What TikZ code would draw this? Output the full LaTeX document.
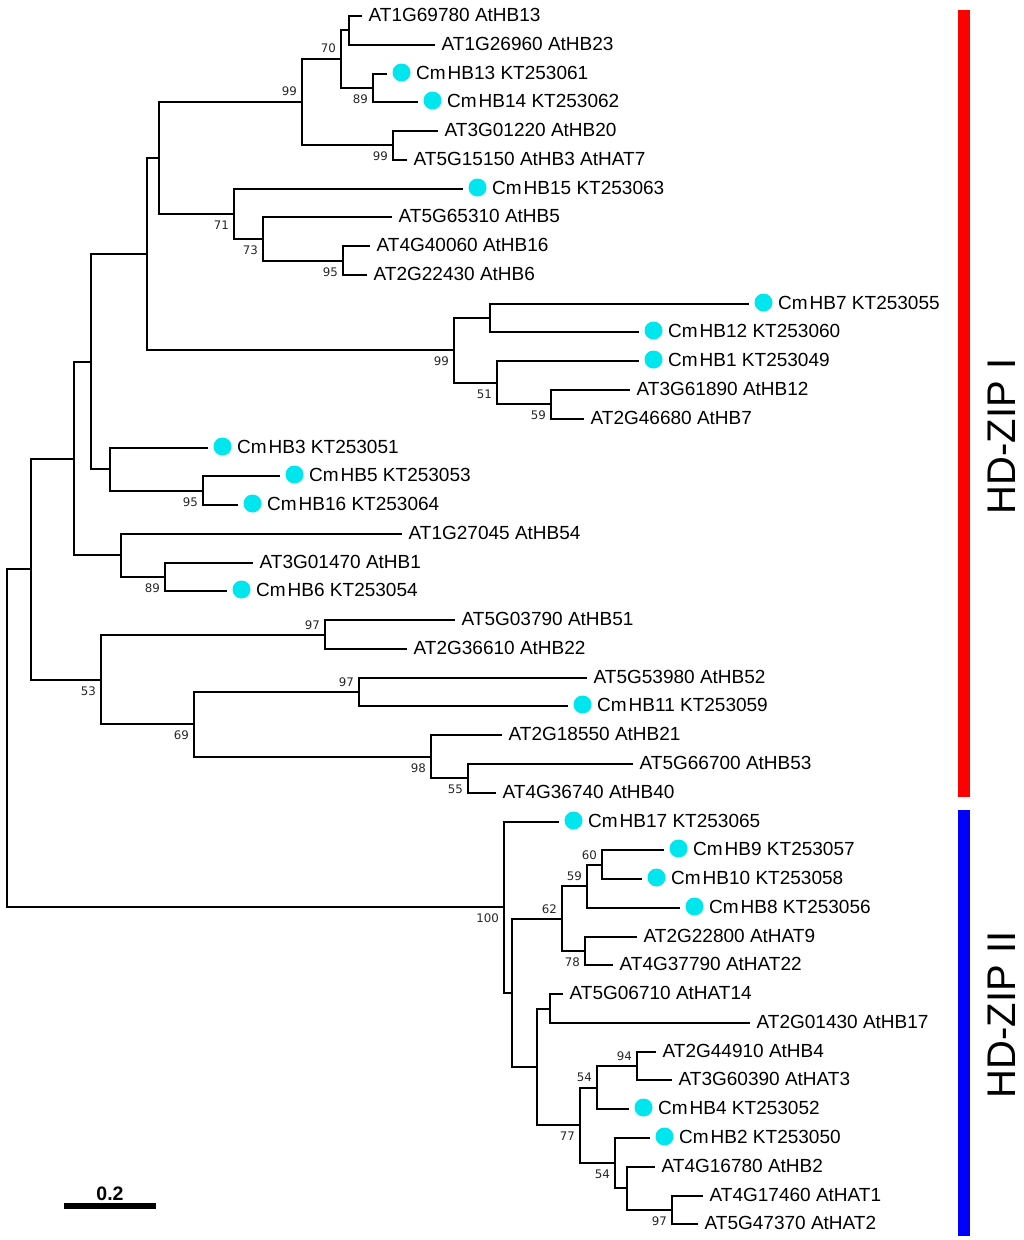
\documentclass[tikz,border=0pt]{standalone}
\usepackage{fontspec}
\setmainfont{Liberation Sans}
\newfontfamily\bsfont{DejaVu Sans}
\usetikzlibrary{calc}
\definecolor{dotcyan}{RGB}{0,230,238}
\newcommand\atleaf[2]{\node[atlab] (t#1) at ($(l#1)+(6.5,5.3)$) {#2};}
\newcommand\cmleaf[3]{\node[dotc] (d#1) at ($(l#1)+(14.5,-1.5)$) {};
  \node[atlab] (t#1) at ($(l#1)+(29,5.3)$) {Cm\kern2pt HB#2 KT#3};}
\newcommand\bsup[2]{\node[bs] (b#1) at ($(#1)+(-5,-10.3)$) {#2};}
\newcommand\bsdn[2]{\node[bs] (b#1) at ($(#1)+(-5,11.5)$) {#2};}
\begin{document}
\begin{tikzpicture}[x=1pt,y=-1pt,
  br/.style={line width=2pt, black},
  atlab/.style={anchor=base west, inner sep=0pt, font=\fontsize{19}{19}\selectfont},
  dotc/.style={circle, fill=dotcyan, minimum size=18pt, inner sep=0pt},
  bs/.style={anchor=east, inner sep=0pt, text=black!85, font=\bsfont\fontsize{11.8}{12}\selectfont}]
\useasboundingbox (0,0) rectangle (1024,1240);

% leaf line ends
\coordinate (l1) at (362,16);
\coordinate (l2) at (435,45);
\coordinate (l3) at (387,74);
\coordinate (l4) at (418,102);
\coordinate (l5) at (438,131);
\coordinate (l6) at (407,160);
\coordinate (l7) at (463,189);
\coordinate (l8) at (392,217);
\coordinate (l9) at (370,246);
\coordinate (l10) at (367,275);
\coordinate (l11) at (749,304);
\coordinate (l12) at (639,332);
\coordinate (l13) at (639,361);
\coordinate (l14) at (630,390);
\coordinate (l15) at (584,419);
\coordinate (l16) at (208,448);
\coordinate (l17) at (280,476);
\coordinate (l18) at (238,505);
\coordinate (l19) at (402,534);
\coordinate (l20) at (253,563);
\coordinate (l21) at (227,591);
\coordinate (l22) at (455,620);
\coordinate (l23) at (407,649);
\coordinate (l24) at (587,678);
\coordinate (l25) at (568,706);
\coordinate (l26) at (502,735);
\coordinate (l27) at (633,764);
\coordinate (l28) at (496,793);
\coordinate (l29) at (559,822);
\coordinate (l30) at (664,850);
\coordinate (l31) at (642,879);
\coordinate (l32) at (680,908);
\coordinate (l33) at (637,937);
\coordinate (l34) at (613,965);
\coordinate (l35) at (563,994);
\coordinate (l36) at (750,1023);
\coordinate (l37) at (656,1052);
\coordinate (l38) at (672,1080);
\coordinate (l39) at (629,1109);
\coordinate (l40) at (650,1138);
\coordinate (l41) at (655,1167);
\coordinate (l42) at (703,1196);
\coordinate (l43) at (698,1224);

% internal nodes
\coordinate (A) at (349,30);
\coordinate (C) at (373,88);
\coordinate (B) at (341,59);
\coordinate (E) at (393,145);
\coordinate (D) at (302,102);
\coordinate (I) at (343,261);
\coordinate (H) at (263,239);
\coordinate (G) at (234,214);
\coordinate (F) at (159,158);
\coordinate (K1) at (490,318);
\coordinate (K3) at (551,404);
\coordinate (K2) at (497,383);
\coordinate (K) at (454,350);
\coordinate (J) at (147,254);
\coordinate (M) at (203,491);
\coordinate (L) at (110,469);
\coordinate (N) at (91,362);
\coordinate (Q) at (165,577);
\coordinate (P) at (121,555);
\coordinate (O) at (74,459);
\coordinate (U) at (325,635);
\coordinate (W) at (359,692);
\coordinate (Y) at (468,778);
\coordinate (X) at (431,757);
\coordinate (V) at (194,724);
\coordinate (T) at (101,680);
\coordinate (R) at (31,569);
\coordinate (AE) at (602,865);
\coordinate (AD) at (587,886);
\coordinate (AF) at (585,951);
\coordinate (AB) at (562,919);
\coordinate (AG) at (550,1009);
\coordinate (AJ) at (637,1066);
\coordinate (AI) at (597,1088);
\coordinate (AM) at (672,1210);
\coordinate (AL) at (627,1188);
\coordinate (AK) at (615,1163);
\coordinate (AH) at (580,1125);
\coordinate (AC) at (537,1067);
\coordinate (AA) at (512,993);
\coordinate (Z) at (504,907);
\coordinate (S) at (7,738);

% branches
\draw[br] (l1) -| (A) |- (l2);
\draw[br] (l3) -| (C) |- (l4);
\draw[br] (A) -| (B) |- (C);
\draw[br] (l5) -| (E) |- (l6);
\draw[br] (B) -| (D) |- (E);
\draw[br] (l9) -| (I) |- (l10);
\draw[br] (l8) -| (H) |- (I);
\draw[br] (l7) -| (G) |- (H);
\draw[br] (D) -| (F) |- (G);
\draw[br] (l11) -| (K1) |- (l12);
\draw[br] (l14) -| (K3) |- (l15);
\draw[br] (l13) -| (K2) |- (K3);
\draw[br] (K1) -| (K) |- (K2);
\draw[br] (F) -| (J) |- (K);
\draw[br] (l17) -| (M) |- (l18);
\draw[br] (l16) -| (L) |- (M);
\draw[br] (J) -| (N) |- (L);
\draw[br] (l20) -| (Q) |- (l21);
\draw[br] (l19) -| (P) |- (Q);
\draw[br] (N) -| (O) |- (P);
\draw[br] (l22) -| (U) |- (l23);
\draw[br] (l24) -| (W) |- (l25);
\draw[br] (l27) -| (Y) |- (l28);
\draw[br] (l26) -| (X) |- (Y);
\draw[br] (W) -| (V) |- (X);
\draw[br] (U) -| (T) |- (V);
\draw[br] (O) -| (R) |- (T);
\draw[br] (l30) -| (AE) |- (l31);
\draw[br] (AE) -| (AD) |- (l32);
\draw[br] (l33) -| (AF) |- (l34);
\draw[br] (AD) -| (AB) |- (AF);
\draw[br] (l35) -| (AG) |- (l36);
\draw[br] (l37) -| (AJ) |- (l38);
\draw[br] (AJ) -| (AI) |- (l39);
\draw[br] (l42) -| (AM) |- (l43);
\draw[br] (l41) -| (AL) |- (AM);
\draw[br] (l40) -| (AK) |- (AL);
\draw[br] (AI) -| (AH) |- (AK);
\draw[br] (AG) -| (AC) |- (AH);
\draw[br] (AB) -| (AA) |- (AC);
\draw[br] (l29) -| (Z) |- (AA);
\draw[br] (R) -| (S) |- (Z);

% leaf labels
\atleaf{1}{AT1G69780 AtHB13}
\atleaf{2}{AT1G26960 AtHB23}
\cmleaf{3}{13}{253061}
\cmleaf{4}{14}{253062}
\atleaf{5}{AT3G01220 AtHB20}
\atleaf{6}{AT5G15150 AtHB3 AtHAT7}
\cmleaf{7}{15}{253063}
\atleaf{8}{AT5G65310 AtHB5}
\atleaf{9}{AT4G40060 AtHB16}
\atleaf{10}{AT2G22430 AtHB6}
\cmleaf{11}{7}{253055}
\cmleaf{12}{12}{253060}
\cmleaf{13}{1}{253049}
\atleaf{14}{AT3G61890 AtHB12}
\atleaf{15}{AT2G46680 AtHB7}
\cmleaf{16}{3}{253051}
\cmleaf{17}{5}{253053}
\cmleaf{18}{16}{253064}
\atleaf{19}{AT1G27045 AtHB54}
\atleaf{20}{AT3G01470 AtHB1}
\cmleaf{21}{6}{253054}
\atleaf{22}{AT5G03790 AtHB51}
\atleaf{23}{AT2G36610 AtHB22}
\atleaf{24}{AT5G53980 AtHB52}
\cmleaf{25}{11}{253059}
\atleaf{26}{AT2G18550 AtHB21}
\atleaf{27}{AT5G66700 AtHB53}
\atleaf{28}{AT4G36740 AtHB40}
\cmleaf{29}{17}{253065}
\cmleaf{30}{9}{253057}
\cmleaf{31}{10}{253058}
\cmleaf{32}{8}{253056}
\atleaf{33}{AT2G22800 AtHAT9}
\atleaf{34}{AT4G37790 AtHAT22}
\atleaf{35}{AT5G06710 AtHAT14}
\atleaf{36}{AT2G01430 AtHB17}
\atleaf{37}{AT2G44910 AtHB4}
\atleaf{38}{AT3G60390 AtHAT3}
\cmleaf{39}{4}{253052}
\cmleaf{40}{2}{253050}
\atleaf{41}{AT4G16780 AtHB2}
\atleaf{42}{AT4G17460 AtHAT1}
\atleaf{43}{AT5G47370 AtHAT2}

% bootstrap values
\bsup{B}{70}
\bsup{D}{99}
\bsup{U}{97}
\bsup{W}{97}
\bsup{AE}{60}
\bsup{AD}{59}
\bsup{AB}{62}
\bsup{AJ}{94}
\bsup{AI}{54}
\bsdn{C}{89}
\bsdn{E}{99}
\bsdn{G}{71}
\bsdn{H}{73}
\bsdn{I}{95}
\bsdn{M}{95}
\bsdn{Q}{89}
\bsdn{K}{99}
\bsdn{K2}{51}
\bsdn{K3}{59}
\bsdn{T}{53}
\bsdn{V}{69}
\bsdn{X}{98}
\bsdn{Y}{55}
\bsdn{Z}{100}
\bsdn{AF}{78}
\bsdn{AH}{77}
\bsdn{AK}{54}
\bsdn{AM}{97}

% scale bar
\coordinate (sb1) at (64,1206);
\coordinate (sb2) at (156,1206);
\draw[line width=6pt] (sb1) -- (sb2);
\node[anchor=base, inner sep=0pt, font=\bfseries\fontsize{19.5}{20}\selectfont] (sbl) at (110,1200) {0.2};

% group bars
\node[fill=red, minimum width=12pt, minimum height=787pt, inner sep=0pt] (barI) at (964,403.5) {};
\node[fill=blue, minimum width=12pt, minimum height=426pt, inner sep=0pt] (barII) at (964,1023) {};
\node[rotate=90, inner sep=0pt, font=\fontsize{40}{40}\selectfont] (hdI) at (1002,436.5) {HD-ZIP I};
\node[rotate=90, inner sep=0pt, font=\fontsize{40}{40}\selectfont] (hdII) at (1002,1015) {HD-ZIP II};
\end{tikzpicture}
\end{document}
